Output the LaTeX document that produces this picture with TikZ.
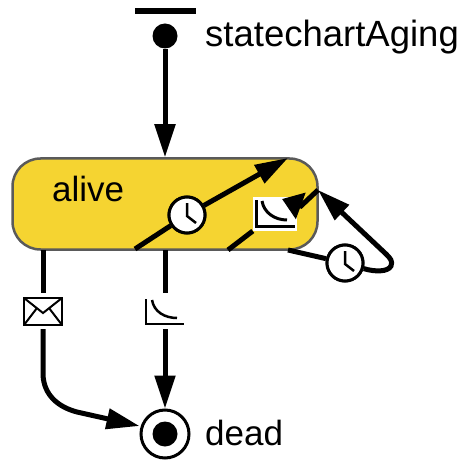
\documentclass[tikz,border=0pt]{standalone}
\usepackage{fontspec}
\setmainfont{Liberation Sans}
\usetikzlibrary{positioning, fit, shapes}
\usetikzlibrary{shapes,decorations,arrows,positioning}
\usetikzlibrary{arrows.meta}
\definecolor{stateyellow}{HTML}{F5D431}
\definecolor{stateedge}{HTML}{5A5A5A}
\tikzstyle{state}=[rectangle, rounded corners=28pt, draw=stateedge, line width=2.5pt, fill=stateyellow, minimum width=305pt, minimum height=91pt, inner sep=0pt]
\tikzstyle{wire}=[line width=5pt]
\tikzstyle{cable}=[line width=5pt, -{Triangle[length=33pt, width=20pt]}]
\tikzstyle{shortcable}=[line width=5pt, -{Triangle[length=20pt, width=27pt]}]
\tikzstyle{clock}=[circle, draw, fill=white, line width=3pt, minimum size=36pt, inner sep=0pt]
\tikzstyle{hand}=[line width=2.5pt]
\tikzstyle{icon}=[rectangle, fill=white, minimum width=40pt, minimum height=35pt, inner sep=0pt]
\tikzstyle{label}=[anchor=base west, inner sep=0pt, font=\fontsize{35}{35}\selectfont]
\begin{document}
\begin{tikzpicture}[x=1pt, y=-1pt]
    \useasboundingbox (0,0) rectangle (459,462);

    % Etats
    \node[state] (alive) at (165,204) {};
    \node[label] (aliveText) at (52,201) {alive};
    \node[circle, fill=black, minimum size=25pt, inner sep=0pt] (init) at (165,36) {};
    \node[minimum width=61pt, minimum height=5.5pt, inner sep=0pt, fill=black] (bar) at (165,11) {};
    \node[label, font=\fontsize{36.5}{36.5}\selectfont] (initText) at (205,47) {statechartAging};
    \node[circle, draw, fill=white, line width=3pt, minimum size=48pt, inner sep=0pt] (final) at (165,434) {};
    \node[circle, fill=black, minimum size=25pt, inner sep=0pt] (finalDot) at (165,434) {};
    \node[label] (finalText) at (205,445) {dead};

    % Points libres sur le bord
    \coordinate (a1) at (135,249);
    \coordinate (a2) at (288,158);
    \coordinate (b1) at (228,250);
    \coordinate (b2) at (318,190);
    \coordinate (b3) at (282,199);
    \coordinate (c1) at (288,250);
    \coordinate (msgTop) at (43,250);
    \coordinate (toTop) at (165,250);

    % Icones
    \node[clock] (clockA) at (187,215) {};
    \node[clock] (clockC) at (345,263) {};
    \node[icon] (msg) at (43,311) {};
    \node[icon] (toD) at (165,311) {};
    \node[icon, minimum width=44pt, minimum height=34pt] (toB) at (275,214) {};

    % Transitions
    \draw[cable] (init) -- (alive.north -| init);
    \draw[wire] (a1) -- (clockA);
    \draw[cable] (clockA) -- (a2);
    \draw[wire] (b1) -- (toB);
    \draw[wire] (c1) -- (clockC);
    \draw[cable] (clockC) .. controls (375,272) and (388,272) .. (391,266) .. controls (393,261) and (390,258) .. (386,254) -- (b2);
    \draw[wire] (msgTop) -- (msg);
    \draw[wire] (toTop) -- (toD);
    \draw[cable] (msg) -- (43,375) .. controls (44,395) and (58,407) .. (77,412) -- (final.west |- 425,426);
    \draw[cable] (toD) -- (final.north);

    % On remet les noeuds au-dessus des fils
    \node[clock] at (clockA) {};
    \node[clock] at (clockC) {};
    \node[icon, minimum width=44pt, minimum height=34pt] at (toB) {};
    \node[icon] at (msg) {};
    \node[icon] at (toD) {};
    \draw[shortcable] (b2) -- (301,206) -- (b3);

    % Aiguilles
    \draw[hand] (187,203) -- (187,216) -- (196,223);
    \draw[hand] (345,251) -- (345,264) -- (354,271);

    % Enveloppe
    \draw[line width=2.5pt] (24,298) rectangle (62,325);
    \draw[line width=2pt] (24,298) -- (43,313) -- (62,298) (24,325) -- (37,308) (62,325) -- (49,308);

    % Temporisations
    \draw[line width=2.5pt] (146,299) -- (146,324) -- (184,324);
    \draw[line width=2.5pt] (152,300) .. controls (154,312) and (165,318) .. (177,318);
    \draw[line width=3pt] (256,200) -- (256,226) -- (295,226);
    \draw[line width=3pt] (262,201) .. controls (264,213) and (275,220) .. (287,220);
\end{tikzpicture}
\end{document}
